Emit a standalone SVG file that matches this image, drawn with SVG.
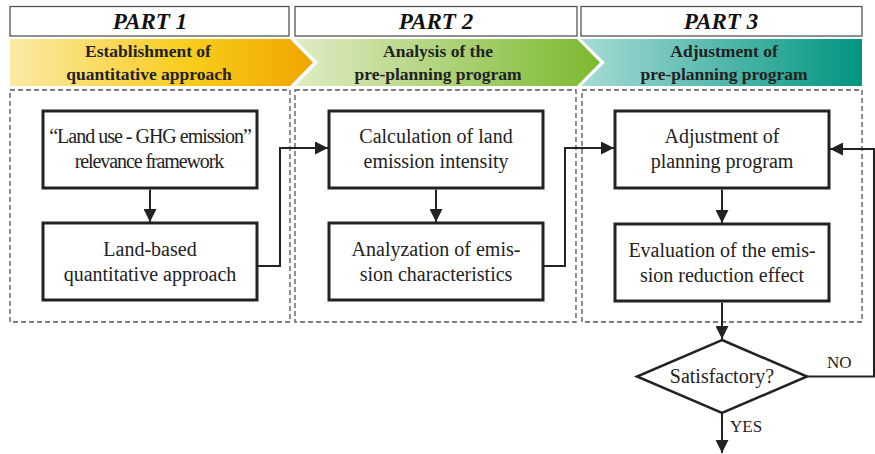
<svg xmlns="http://www.w3.org/2000/svg" width="875" height="454" viewBox="0 0 875 454">
<defs>
<linearGradient id="g1" x1="0" x2="1" y1="0" y2="0">
<stop offset="0" stop-color="#fbe9a6"/><stop offset="0.6" stop-color="#f8cc1a"/><stop offset="1" stop-color="#f0a500"/>
</linearGradient>
<linearGradient id="g2" x1="0" x2="1" y1="0" y2="0">
<stop offset="0" stop-color="#e0ecc4"/><stop offset="1" stop-color="#7cb92f"/>
</linearGradient>
<linearGradient id="g3" x1="0" x2="1" y1="0" y2="0">
<stop offset="0" stop-color="#a7dbd6"/><stop offset="1" stop-color="#009580"/>
</linearGradient>
<marker id="ah" viewBox="0 0 10 10" refX="10" refY="5" markerWidth="6.5" markerHeight="6.5" markerUnits="strokeWidth" orient="auto">
<path d="M0,0 L10,5 L0,10 z" fill="#222"/>
</marker>
</defs>
<rect width="875" height="454" fill="#fff"/>

<g id="headers" fill="#fff" stroke="#555" stroke-width="1.3">
<rect x="10" y="6.5" width="279" height="29.5"/>
<rect x="295" y="6.5" width="282" height="29.5"/>
<rect x="581" y="6.5" width="281" height="29.5"/>
</g>
<g id="banners">
<path d="M10,39 L290,39 L313,62.5 L290,86 L10,86 Z" fill="url(#g1)"/>
<path d="M295,39 L577,39 L600,62.5 L577,86 L295,86 L318,62.5 Z" fill="url(#g2)"/>
<path d="M581,39 L862,39 L862,86 L581,86 L605,62.5 Z" fill="url(#g3)"/>
</g>
<g id="parts" fill="none" stroke="#555" stroke-width="1.3" stroke-dasharray="5,3">
<rect x="10" y="90" width="280" height="232"/>
<rect x="295" y="90" width="281" height="232"/>
<rect x="582" y="90" width="280" height="232"/>
</g>
<g id="headertexts" font-weight="bold" font-style="italic" font-size="23" fill="#111" text-anchor="middle">
<text font-family="Liberation Serif" x="150" y="29">PART 1</text>
<text font-family="Liberation Serif" x="436" y="29">PART 2</text>
<text font-family="Liberation Serif" x="721" y="29">PART 3</text>
</g>
<g id="bannertexts" font-weight="bold" font-size="17.5" fill="#222" text-anchor="middle">
<text font-family="Liberation Serif" x="148" y="57">Establishment of</text>
<text font-family="Liberation Serif" x="149" y="80">quantitative approach</text>
<text font-family="Liberation Serif" x="438" y="57">Analysis of the</text>
<text font-family="Liberation Serif" x="438" y="80">pre-planning program</text>
<text font-family="Liberation Serif" x="724" y="57">Adjustment of</text>
<text font-family="Liberation Serif" x="724" y="80">pre-planning program</text>
</g>

<g id="nodes" font-size="20" text-anchor="middle" fill="#222">
<g id="n1">
<rect x="43" y="111" width="214" height="77" fill="#fff" stroke="#222" stroke-width="3"/>
<text font-family="Liberation Serif" x="150" y="143" letter-spacing="-1">&#8220;Land use - GHG emission&#8221;</text>
<text font-family="Liberation Serif" x="149" y="168" letter-spacing="-1.1">relevance framework</text>
</g>
<g id="n2">
<rect x="43" y="223" width="214" height="77" fill="#fff" stroke="#222" stroke-width="3"/>
<text font-family="Liberation Serif" x="150" y="256">Land-based</text>
<text font-family="Liberation Serif" x="150" y="281">quantitative approach</text>
</g>
<g id="n3">
<rect x="329" y="111" width="214" height="77" fill="#fff" stroke="#222" stroke-width="3"/>
<text font-family="Liberation Serif" x="436" y="143">Calculation of land</text>
<text font-family="Liberation Serif" x="436" y="168">emission intensity</text>
</g>
<g id="n4">
<rect x="329" y="223" width="214" height="77" fill="#fff" stroke="#222" stroke-width="3"/>
<text font-family="Liberation Serif" x="436" y="256">Analyzation of emis-</text>
<text font-family="Liberation Serif" x="436" y="281">sion characteristics</text>
</g>
<g id="n5">
<rect x="615" y="111" width="214" height="77" fill="#fff" stroke="#222" stroke-width="3"/>
<text font-family="Liberation Serif" x="722" y="143">Adjustment of</text>
<text font-family="Liberation Serif" x="722" y="168">planning program</text>
</g>
<g id="n6">
<rect x="615" y="224" width="214" height="77" fill="#fff" stroke="#222" stroke-width="3"/>
<text font-family="Liberation Serif" x="722" y="257">Evaluation of the emis-</text>
<text font-family="Liberation Serif" x="722" y="282">sion reduction effect</text>
</g>
<g id="n7">
<path d="M722,340 L807,376.5 L722,413 L637,376.5 Z" fill="#fff" stroke="#222" stroke-width="2.5"/>
<text font-family="Liberation Serif" x="722" y="383">Satisfactory?</text>
</g>
</g>

<g id="connectors" fill="none" stroke="#222" stroke-width="2">
<line x1="150" y1="189.5" x2="150" y2="222" marker-end="url(#ah)"/>
<polyline points="257,266 280,266 280,148 328,148" marker-end="url(#ah)"/>
<line x1="436" y1="189.5" x2="436" y2="222" marker-end="url(#ah)"/>
<polyline points="543,266 565,266 565,148 614,148" marker-end="url(#ah)"/>
<line x1="722" y1="189.5" x2="722" y2="223" marker-end="url(#ah)"/>
<line x1="722" y1="302.5" x2="722" y2="339" marker-end="url(#ah)"/>
<line x1="722" y1="413" x2="722" y2="453" marker-end="url(#ah)"/>
<polyline points="807,376.5 874,376.5 874,149 830,149" marker-end="url(#ah)"/>
</g>
<g id="connector-labels" font-size="17" fill="#222">
<text font-family="Liberation Serif" x="827" y="368">NO</text>
<text font-family="Liberation Serif" x="730" y="432">YES</text>
</g>
</svg>
